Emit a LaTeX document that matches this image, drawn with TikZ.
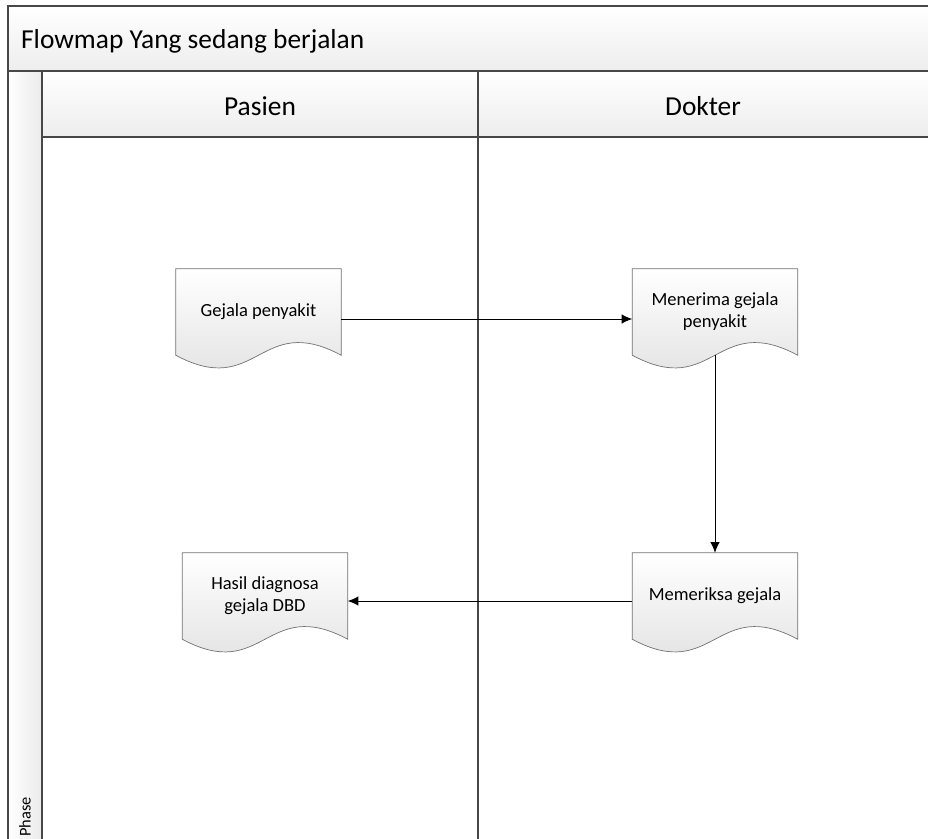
\documentclass[tikz,border=0pt]{standalone}
\usepackage{fontspec}
\setmainfont{Carlito}
\usepackage{tikz}
\usetikzlibrary{arrows.meta, backgrounds}

\begin{document}
\begin{tikzpicture}[x=0.03cm, y=-0.03cm,
        frame/.style={draw=black!72, line width=1.5pt},
        lanetext/.style={anchor=base, font=\fontsize{23.4}{28}\selectfont},
        docbox/.style={minimum width=4.95cm, minimum height=2.58cm, inner sep=0pt, align=center, font=\fontsize{15.8}{18.8}\selectfont},
        docline/.style={draw=black!55, line width=0.6pt, top color=white, bottom color=black!13},
        flow/.style={-{Latex[length=9pt,width=8pt]}, line width=0.8pt}]
        \useasboundingbox (0,0) rectangle (928,838);
        \clip (0,0) rectangle (928,838);

        % Pool and lanes
        \shade[top color=white, bottom color=black!7] (8,6) rectangle (940,71);
        \shade[top color=white, bottom color=black!7] (42,71) rectangle (940,137);
        \shade[left color=white, right color=black!8] (8,71) rectangle (42,850);
        \draw[frame] (940,6) -- (8,6) -- (8,850);
        \draw[frame] (8,71) -- (940,71);
        \draw[frame] (42,137) -- (940,137);
        \draw[frame] (42,71) -- (42,850);
        \draw[frame] (478,71) -- (478,850);

        \node[anchor=base west, font=\fontsize{23.4}{28}\selectfont] (title) at (17,48) {Flowmap Yang sedang berjalan};
        \node[lanetext] (pasien) at (260,115) {Pasien};
        \node[lanetext] (dokter) at (703,115) {Dokter};
        \node[rotate=90, anchor=west, inner sep=1pt, font=\fontsize{14}{16}\selectfont] (phase) at (25,838) {Phase};

        % Documents
        \node[docbox] (gejala) at (258.5,312) {Gejala penyakit};
        \node[docbox] (menerima) at (715,312) {Menerima gejala\\penyakit};
        \node[docbox] (periksa) at (715,596) {Memeriksa gejala};
        \node[docbox] (hasil) at (265,596) {Hasil diagnosa\\gejala DBD};

        \begin{scope}[on background layer]
        \foreach \n in {gejala,menerima,periksa,hasil} {
            \fill[black!12, xshift=0.07cm, yshift=-0.09cm] (\n.north west) -- (\n.north east) -- (\n.south east)
                .. controls +(-82,-44) and +(82,44) .. (\n.south west) -- cycle;
            \shade[docline] (\n.north west) -- (\n.north east) -- (\n.south east)
                .. controls +(-82,-44) and +(82,44) .. (\n.south west) -- cycle;
        }
        \end{scope}

        % Flow
        \draw[flow] ([yshift=-0.21cm]gejala.east) -- ([yshift=-0.21cm]menerima.west);
        \draw[flow] (menerima.south) -- (periksa.north);
        \draw[flow] ([yshift=-0.15cm]periksa.west) -- ([yshift=-0.15cm]hasil.east);
\end{tikzpicture}
\end{document}
